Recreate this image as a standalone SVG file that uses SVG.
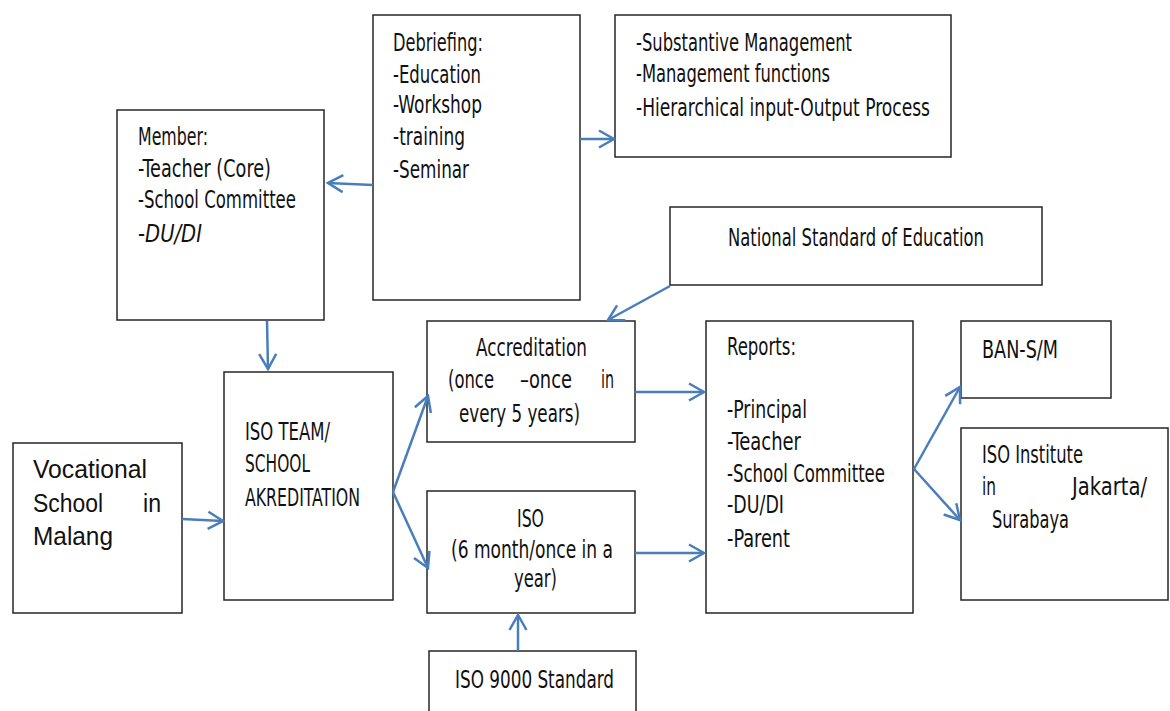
<svg xmlns="http://www.w3.org/2000/svg" width="1170" height="711" viewBox="0 0 1170 711">
<style>
.box{fill:#fff;stroke:#262626;stroke-width:1.5}
.t{font-family:"Liberation Sans Narrow","DejaVu Sans Condensed","Liberation Sans",sans-serif;font-size:25px;fill:#111}
.c{font-family:"Liberation Sans",Carlito,sans-serif;font-size:25px;fill:#111}
.e{fill:none;stroke:#4a7ebb;stroke-width:2.5}
</style>
<defs>
<marker id="ah" viewBox="0 0 18 20" refX="16" refY="10" markerWidth="18" markerHeight="20" markerUnits="userSpaceOnUse" orient="auto">
<path d="M1,1.5 L16,10 L1,18.5" fill="none" stroke="#4a7ebb" stroke-width="2.5"/>
</marker>
</defs>
<rect width="1170" height="711" fill="#fff"/>
<g id="debriefing">
<rect class="box" x="373" y="15" width="207" height="285"/>
<text class="t" x="393" y="51" textLength="90" lengthAdjust="spacingAndGlyphs">Debriefing:</text>
<text class="t" x="393" y="83" textLength="88" lengthAdjust="spacingAndGlyphs">-Education</text>
<text class="t" x="393" y="113" textLength="89" lengthAdjust="spacingAndGlyphs">-Workshop</text>
<text class="t" x="393" y="145" textLength="72" lengthAdjust="spacingAndGlyphs">-training</text>
<text class="t" x="393" y="178" textLength="76" lengthAdjust="spacingAndGlyphs">-Seminar</text>
</g>
<g id="substantive">
<rect class="box" x="615" y="15" width="336" height="142"/>
<text class="t" x="636" y="51" textLength="216" lengthAdjust="spacingAndGlyphs">-Substantive Management</text>
<text class="t" x="636" y="82" textLength="194" lengthAdjust="spacingAndGlyphs">-Management functions</text>
<text class="t" x="636" y="116" textLength="294" lengthAdjust="spacingAndGlyphs">-Hierarchical input-Output Process</text>
</g>
<g id="national">
<rect class="box" x="670" y="207" width="372" height="78"/>
<text class="t" x="728" y="246" textLength="256" lengthAdjust="spacingAndGlyphs">National Standard of Education</text>
</g>
<g id="member">
<rect class="box" x="117" y="110" width="207" height="210"/>
<text class="t" x="138" y="145" textLength="70" lengthAdjust="spacingAndGlyphs">Member:</text>
<text class="t" x="138" y="177" textLength="133" lengthAdjust="spacingAndGlyphs">-Teacher (Core)</text>
<text class="t" x="138" y="208" textLength="158" lengthAdjust="spacingAndGlyphs">-School Committee</text>
<text class="t" x="138" y="242" textLength="64" lengthAdjust="spacingAndGlyphs">-<tspan font-style="italic">DU/DI</tspan></text>
</g>
<g id="vocational">
<rect class="box" x="13" y="443" width="169" height="170"/>
<text class="c" x="33" y="478" textLength="114" lengthAdjust="spacingAndGlyphs">Vocational</text>
<text class="c" x="33" y="512" textLength="70" lengthAdjust="spacingAndGlyphs">School</text>
<text class="c" x="143" y="512" textLength="18" lengthAdjust="spacingAndGlyphs">in</text>
<text class="c" x="33" y="545" textLength="80" lengthAdjust="spacingAndGlyphs">Malang</text>
</g>
<g id="isoteam">
<rect class="box" x="224" y="372" width="169" height="228"/>
<text class="t" x="245" y="440" textLength="85" lengthAdjust="spacingAndGlyphs">ISO TEAM/</text>
<text class="t" x="245" y="472" textLength="65" lengthAdjust="spacingAndGlyphs">SCHOOL</text>
<text class="t" x="245" y="506" textLength="115" lengthAdjust="spacingAndGlyphs">AKREDITATION</text>
</g>
<g id="accreditation">
<rect class="box" x="427" y="321" width="208" height="121"/>
<text class="t" x="476" y="356" textLength="111" lengthAdjust="spacingAndGlyphs">Accreditation</text>
<text class="t" x="448" y="388" textLength="46" lengthAdjust="spacingAndGlyphs">(once</text>
<text class="t" x="520" y="388" textLength="52" lengthAdjust="spacingAndGlyphs">–once</text>
<text class="t" x="601" y="388" textLength="13" lengthAdjust="spacingAndGlyphs">in</text>
<text class="t" x="459" y="422" textLength="121" lengthAdjust="spacingAndGlyphs">every 5 years)</text>
</g>
<g id="iso">
<rect class="box" x="427" y="491" width="208" height="122"/>
<text class="t" x="517" y="527" textLength="27" lengthAdjust="spacingAndGlyphs">ISO</text>
<text class="t" x="451" y="558" textLength="162" lengthAdjust="spacingAndGlyphs">(6 month/once in a</text>
<text class="t" x="514" y="587" textLength="43" lengthAdjust="spacingAndGlyphs">year)</text>
</g>
<g id="iso9000">
<rect class="box" x="429" y="651" width="207" height="70"/>
<text class="t" x="455" y="688" textLength="159" lengthAdjust="spacingAndGlyphs">ISO 9000 Standard</text>
</g>
<g id="reports">
<rect class="box" x="706" y="321" width="207" height="292"/>
<text class="t" x="727" y="355" textLength="69" lengthAdjust="spacingAndGlyphs">Reports:</text>
<text class="t" x="727" y="418" textLength="80" lengthAdjust="spacingAndGlyphs">-Principal</text>
<text class="t" x="727" y="450" textLength="74" lengthAdjust="spacingAndGlyphs">-Teacher</text>
<text class="t" x="727" y="482" textLength="158" lengthAdjust="spacingAndGlyphs">-School Committee</text>
<text class="t" x="727" y="513" textLength="57" lengthAdjust="spacingAndGlyphs">-DU/DI</text>
<text class="t" x="727" y="547" textLength="63" lengthAdjust="spacingAndGlyphs">-Parent</text>
</g>
<g id="ban">
<rect class="box" x="961" y="321" width="150" height="77"/>
<text class="t" x="982" y="358" textLength="76" lengthAdjust="spacingAndGlyphs">BAN-S/M</text>
</g>
<g id="isoinstitute">
<rect class="box" x="961" y="428" width="207" height="172"/>
<text class="t" x="982" y="463" textLength="101" lengthAdjust="spacingAndGlyphs">ISO Institute</text>
<text class="t" x="982" y="495" textLength="14" lengthAdjust="spacingAndGlyphs">in</text>
<text class="t" x="1072" y="495" textLength="75" lengthAdjust="spacingAndGlyphs">Jakarta/</text>
<text class="t" x="992" y="528" textLength="77" lengthAdjust="spacingAndGlyphs">Surabaya</text>
</g>
<g id="connectors">
<path class="e" d="M373,185 L328,183" marker-end="url(#ah)"/>
<path class="e" d="M580,139 L614,139" marker-end="url(#ah)"/>
<path class="e" d="M267,321 L268,369" marker-end="url(#ah)"/>
<path class="e" d="M182,519 L223,521" marker-end="url(#ah)"/>
<path class="e" d="M393,492 L428,396" marker-end="url(#ah)"/>
<path class="e" d="M393,492 L428,568" marker-end="url(#ah)"/>
<path class="e" d="M670,286 L608,320" marker-end="url(#ah)"/>
<path class="e" d="M635,392 L704,392" marker-end="url(#ah)"/>
<path class="e" d="M635,553 L704,553" marker-end="url(#ah)"/>
<path class="e" d="M518,651 L518,615" marker-end="url(#ah)"/>
<path class="e" d="M914,469 L960,387" marker-end="url(#ah)"/>
<path class="e" d="M914,469 L960,520" marker-end="url(#ah)"/>
</g>
</svg>
